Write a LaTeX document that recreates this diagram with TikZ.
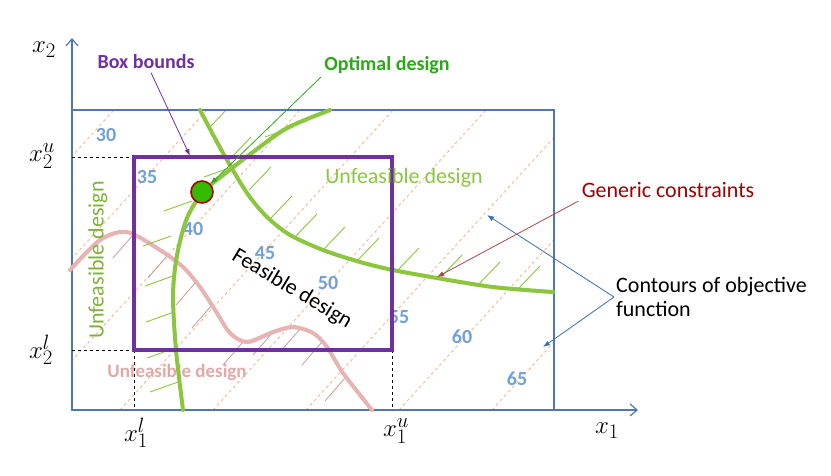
\documentclass[tikz,border=0pt]{standalone}
\usepackage{fontspec}
\setmainfont{Carlito}
\usetikzlibrary{arrows.meta}

\definecolor{axisblue}{HTML}{4F77B3}
\definecolor{boxpurple}{HTML}{7030A0}
\definecolor{cgreen}{HTML}{8CC63F}
\definecolor{optgreen}{HTML}{2CA81A}
\definecolor{dotgreen}{HTML}{33BB00}
\definecolor{dotred}{HTML}{B00000}
\definecolor{pinkc}{HTML}{E6B4B2}
\definecolor{pinktext}{HTML}{E0A9A8}
\definecolor{pinkhatch}{HTML}{C89C9A}
\definecolor{numblue}{HTML}{71A0D8}
\definecolor{contourorange}{HTML}{F4B183}
\definecolor{gendark}{HTML}{A00000}
\definecolor{genline}{HTML}{B04444}
\definecolor{arrowblue}{HTML}{3A6DB5}

\begin{document}
\begin{tikzpicture}[x=1pt,y=-1pt,
  axis/.style={axisblue, line width=1.2pt},
  bound/.style={black, dashed, line width=0.8pt},
  contour/.style={contourorange, dashed, line width=0.8pt},
  cnum/.style={numblue, font=\fontsize{20}{22}\selectfont\bfseries},
  shadowed/.style={preaction={draw=black!40, opacity=0.3,
                   transform canvas={shift={(1.5pt,-2pt)}}}},
  gcurve/.style={cgreen, line width=4pt, line cap=round, shadowed},
  ghatch/.style={cgreen, line width=0.9pt},
  pcurve/.style={pinkc, line width=4pt, line cap=round, shadowed},
  phatch/.style={pinkhatch, line width=0.8pt},
  mlabel/.style={font=\fontsize{28}{30}\selectfont},
  txt/.style={font=\fontsize{22}{24}\selectfont},
  btxt/.style={font=\fontsize{20}{22}\selectfont\bfseries}]
  \def \minx {72}
  \def \maxx {554}
  \def \miny {110}
  \def \maxy {410}
  \def \lox {134}
  \def \hix {392}
  \def \loy {350}
  \def \hiy {157}

  \useasboundingbox (0,0) rectangle (831,475);

  % contours of the objective
  \begin{scope}
    \clip (\minx,\miny) rectangle (\maxx,\maxy);
    \foreach \b in {-252,-159,-66,27,120,213,306,399,492}{
      \draw[contour] (\b,\maxy) -- (\b+273,\miny);
    }
    \foreach \hx/\hy in {209/128,229/160,249/190,270/219,295/237,323/250,
                         357/261,397/271,440/278,478/285,518/289}{
      \draw[ghatch] (\hx,\hy) -- ++(22,-23);
    }
  \end{scope}
  \foreach \v/\px/\py in {30/106/135,35/147/177,40/193/229,45/265/253,
                          50/328/283,55/399/317,60/462/337,65/517/379}{
    \node[cnum] (c\v) at (\px,\py) {\v};
  }

  \node[pinktext, font=\fontsize{19}{21}\selectfont\bfseries] (unfpink) at (177,372) {Unfeasible design};

  % axes and bounds
  \draw[axis] (\minx,\miny) rectangle (\maxx,\maxy);
  \draw[axis, -{Straight Barb[length=7pt,width=12pt]}] (\minx,\maxy) -- (638,\maxy);
  \draw[axis, -{Straight Barb[length=7pt,width=12pt]}] (\minx,\maxy) -- (\minx,38);
  \draw[bound] (\minx,\hiy) -- (\lox,\hiy);
  \draw[bound] (\minx,\loy) -- (\lox,\loy);
  \draw[bound] (\lox,\loy) -- (\lox,\maxy);
  \draw[bound] (\hix,\loy) -- (\hix,\maxy);

  % constraints
  \foreach \hx/\hy in {133/235,168/255,196/282,212/305,243/342,273/332,
                       300/329,322/342,345/378}{
    \draw[phatch] (\hx,\hy) -- ++(-20,23);
  }
  \draw[pcurve] plot[smooth] coordinates {(70,270) (100,240) (127,232) (160,250)
    (183,267) (200,287) (217,313) (230,333) (247,342) (273,332) (293,327)
    (313,333) (327,347) (343,373) (372,410)};

  \foreach \hx/\hy in {293/127,232/167,192/201,171/236,173/276,174/312,
                       175/348,178/382}{
    \draw[ghatch] (\hx,\hy) -- ++(-28,10);
  }
  \draw[gcurve] plot[smooth] coordinates {(183,410) (176,350) (173,295) (177,255)
    (187,218) (203,192) (227,172) (253,152) (287,128) (330,110)};
  \draw[gcurve] plot[smooth] coordinates {(200,110) (223,153) (247,193) (267,217)
    (290,235) (323,250) (360,262) (393,270) (437,278) (493,287) (553,292)};

  % box bounds
  \draw[boxpurple, line width=4pt] (\lox,\hiy) rectangle (\hix,\loy);

  \node[circle, minimum size=22pt, inner sep=0pt, fill=dotgreen, draw=dotred,
        line width=1.6pt] (optpt) at (202,192) {};

  % region texts
  \node[txt, cgreen] (unfup) at (404,178) {Unfeasible design};
  \node[txt, cgreen!90!black, rotate=90] (unfleft) at (98,260) {Unfeasible design};
  \node[txt, rotate=-31] (feas) at (292,289) {Feasible design};

  % axis labels
  \node[mlabel] (x2) at (44,50) {$x_2$};
  \node[mlabel] (x2u) at (42,156) {$x_2^u$};
  \node[mlabel] (x2l) at (41,350) {$x_2^l$};
  \node[mlabel] (x1l) at (136,433) {$x_1^l$};
  \node[mlabel] (x1u) at (396,431) {$x_1^u$};
  \node[mlabel] (x1) at (607,431) {$x_1$};

  % callouts
  \node[btxt, boxpurple] (boxlbl) at (146,62) {Box bounds};
  \node[btxt, optgreen] (optlbl) at (387,65) {Optimal design};
  \node[txt, gendark] (genlbl) at (668,190) {Generic constraints};
  \node[txt, anchor=west, align=left, inner sep=2pt] (contlbl) at (614,297)
    {Contours of objective\\function};

  \coordinate (boxtip) at (190,156);
  \coordinate (gentip) at (437,277);
  \coordinate (ctipa) at (487,215);
  \coordinate (ctipb) at (543,347);

  \draw[boxpurple, line width=0.8pt, -{Latex[length=7pt,width=5pt]}] (boxlbl) -- (boxtip);
  \draw[optgreen, line width=0.8pt, -{Latex[length=7pt,width=5pt]}] (optlbl.south west) -- (optpt);
  \draw[genline, line width=0.8pt, -{Latex[length=7pt,width=5pt]}] (genlbl.south west) -- (gentip);
  \draw[arrowblue, line width=0.8pt, -{Latex[length=7pt,width=5pt]}] (contlbl.west) -- (ctipa);
  \draw[arrowblue, line width=0.8pt, -{Latex[length=7pt,width=5pt]}] (contlbl.west) -- (ctipb);
\end{tikzpicture}
\end{document}
